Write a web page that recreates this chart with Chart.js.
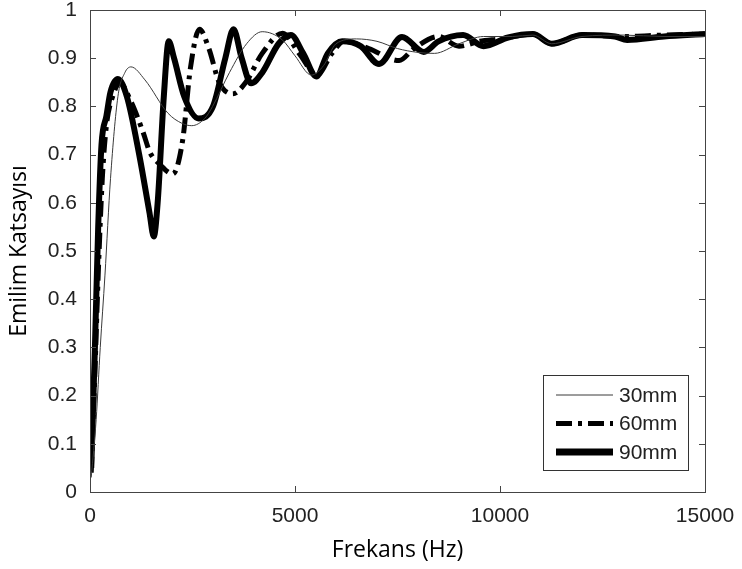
<!DOCTYPE html>
<html><head><meta charset="utf-8">
<script src="https://cdn.jsdelivr.net/npm/chart.js@4/dist/chart.umd.min.js"></script>
<style>html,body{margin:0;padding:0;background:#fff}#wrap{width:742px;height:569px}</style>
</head><body><div id="wrap"><canvas id="c" width="742" height="569"></canvas></div>
<script>
const seriesNames = ['30mm', '60mm', '90mm'];

const freq30 = [30, 150, 250, 365, 500, 680, 850, 1000, 1340, 1900, 2240, 2480, 2800, 2990, 3400, 3820, 4200, 4690, 5000, 5400, 5700, 6000, 6500, 7000, 7500, 8000, 8400, 9000, 9600, 10300, 10800, 11260, 12000, 13000, 14000, 15000];
const val30  = [0.03, 0.15, 0.30, 0.45, 0.65, 0.82, 0.87, 0.882, 0.855, 0.786, 0.765, 0.76, 0.775, 0.80, 0.87, 0.93, 0.955, 0.938, 0.905, 0.865, 0.885, 0.93, 0.94, 0.935, 0.92, 0.912, 0.91, 0.93, 0.945, 0.945, 0.948, 0.93, 0.945, 0.948, 0.945, 0.945];

const freq60 = [30, 120, 200, 300, 400, 550, 730, 1000, 1300, 1460, 1700, 2020, 2260, 2450, 2670, 2900, 3150, 3480, 3800, 4200, 4700, 5100, 5540, 5900, 6200, 6800, 7540, 7900, 8500, 9000, 9500, 10000, 10800, 11260, 12000, 13000, 14000, 15000];
const val60  = [0.04, 0.25, 0.45, 0.65, 0.76, 0.82, 0.848, 0.81, 0.745, 0.705, 0.68, 0.66, 0.73, 0.88, 0.96, 0.92, 0.85, 0.826, 0.85, 0.91, 0.952, 0.91, 0.865, 0.91, 0.935, 0.92, 0.895, 0.92, 0.945, 0.925, 0.935, 0.94, 0.95, 0.93, 0.948, 0.945, 0.948, 0.95];

const freq90 = [30, 120, 200, 280, 400, 500, 680, 900, 1200, 1450, 1556, 1650, 1800, 1920, 2050, 2300, 2650, 3000, 3300, 3500, 3700, 3930, 4200, 4600, 4900, 5200, 5520, 5800, 6150, 6600, 7050, 7610, 8140, 8500, 9100, 9600, 10200, 10800, 11260, 12000, 12800, 13100, 14000, 15000];
const val90  = [0.05, 0.30, 0.55, 0.72, 0.78, 0.83, 0.857, 0.82, 0.70, 0.58, 0.53, 0.60, 0.82, 0.935, 0.90, 0.82, 0.775, 0.80, 0.90, 0.96, 0.90, 0.848, 0.87, 0.93, 0.948, 0.91, 0.862, 0.91, 0.935, 0.925, 0.888, 0.944, 0.913, 0.935, 0.948, 0.925, 0.943, 0.95, 0.93, 0.948, 0.945, 0.938, 0.945, 0.95];

const xTickValues = [0, 5000, 10000, 15000];
const yTickLabels = ['0', '0.1', '0.2', '0.3', '0.4', '0.5', '0.6', '0.7', '0.8', '0.9', '1'];

const toPoints = (xs, ys) => xs.map((x, i) => ({ x: x, y: ys[i] }));

const tickFont = { family: '"Liberation Sans", Arial, sans-serif', size: 21 };
const titleFont = { family: '"Open Sans", sans-serif', size: 23 };

const framePlugin = {
  id: 'frame',
  afterDatasetsDraw(chart) {
    const { ctx, chartArea: a, scales } = chart;
    ctx.save();
    ctx.strokeStyle = '#444';
    ctx.lineWidth = 1;
    ctx.setLineDash([]);
    ctx.strokeRect(Math.round(a.left) + 0.5, Math.round(a.top) + 0.5, Math.round(a.right - a.left), Math.round(a.bottom - a.top));
    const tl = 6;
    ctx.beginPath();
    xTickValues.forEach(v => {
      const px = Math.round(scales.x.getPixelForValue(v)) + 0.5;
      ctx.moveTo(px, a.bottom); ctx.lineTo(px, a.bottom - tl);
      ctx.moveTo(px, a.top); ctx.lineTo(px, a.top + tl);
    });
    yTickLabels.forEach((l, i) => {
      const py = Math.round(scales.y.getPixelForValue(i / 10)) + 0.5;
      ctx.moveTo(a.left, py); ctx.lineTo(a.left + tl, py);
      ctx.moveTo(a.right, py); ctx.lineTo(a.right - tl, py);
    });
    ctx.stroke();
    ctx.restore();
  },
  afterDraw(chart) {
    const { ctx, chartArea: a } = chart;
    const bw = 145, bh = 95;
    const bx = a.right - 17 - bw, by = a.bottom - 22 - bh;
    ctx.save();
    ctx.fillStyle = '#fff';
    ctx.fillRect(bx, by, bw, bh);
    ctx.strokeStyle = '#333';
    ctx.lineWidth = 1;
    ctx.setLineDash([]);
    ctx.strokeRect(Math.round(bx) + 0.5, Math.round(by) + 0.5, bw, bh);
    ctx.font = '21px "Liberation Sans", Arial, sans-serif';
    ctx.textBaseline = 'middle';
    chart.data.datasets.forEach((ds, i) => {
      const cy = by + 20 + i * 28.5;
      ctx.strokeStyle = ds.borderColor;
      ctx.lineWidth = i === 2 ? 7 : ds.borderWidth;
      ctx.setLineDash(ds.borderDash || []);
      ctx.beginPath();
      ctx.moveTo(bx + 13, cy); ctx.lineTo(bx + 70, cy);
      ctx.stroke();
      ctx.setLineDash([]);
      ctx.fillStyle = '#222';
      ctx.fillText(ds.label, bx + 76, cy + 1);
    });
    ctx.restore();
  }
};

new Chart(document.getElementById('c'), {
  type: 'line',
  data: {
    datasets: [
      { label: seriesNames[0], data: toPoints(freq30, val30), borderColor: '#3a3a3a', borderWidth: 1, cubicInterpolationMode: 'monotone', pointRadius: 0 },
      { label: seriesNames[1], data: toPoints(freq60, val60), borderColor: '#000', borderWidth: 5, borderDash: [16, 6, 4, 6], cubicInterpolationMode: 'monotone', pointRadius: 0 },
      { label: seriesNames[2], data: toPoints(freq90, val90), borderColor: '#000', borderWidth: 6, cubicInterpolationMode: 'monotone', pointRadius: 0 }
    ]
  },
  options: {
    responsive: false,
    animation: false,
    devicePixelRatio: 1,
    layout: { padding: { left: 0, right: 37, top: 10, bottom: 0 } },
    plugins: { legend: { display: false }, tooltip: { enabled: false } },
    scales: {
      x: {
        type: 'linear', min: 0, max: 15000,
        afterBuildTicks: s => { s.ticks = xTickValues.map(v => ({ value: v })); },
        afterFit: s => { s.height = 77; s.paddingLeft = 0; s.paddingRight = 0; },
        grid: { display: false },
        border: { display: false },
        ticks: { font: tickFont, color: '#222', padding: 4, maxRotation: 0, autoSkip: false, callback: v => String(v) },
        title: { display: true, text: 'Frekans (Hz)', font: titleFont, color: '#000', padding: { top: 0, bottom: 5 } }
      },
      y: {
        type: 'linear', min: 0, max: 1,
        afterBuildTicks: s => { s.ticks = yTickLabels.map((l, i) => ({ value: i / 10 })); },
        afterFit: s => { s.width = 90; s.paddingTop = 0; s.paddingBottom = 0; },
        grid: { display: false },
        border: { display: false },
        ticks: { font: tickFont, color: '#222', padding: 5, autoSkip: false, callback: v => yTickLabels[Math.round(v * 10)] },
        title: { display: true, text: 'Emilim Katsayısı', font: titleFont, color: '#000', padding: { top: 6, bottom: 0 } }
      }
    }
  },
  plugins: [framePlugin]
});
</script>
</body></html>
